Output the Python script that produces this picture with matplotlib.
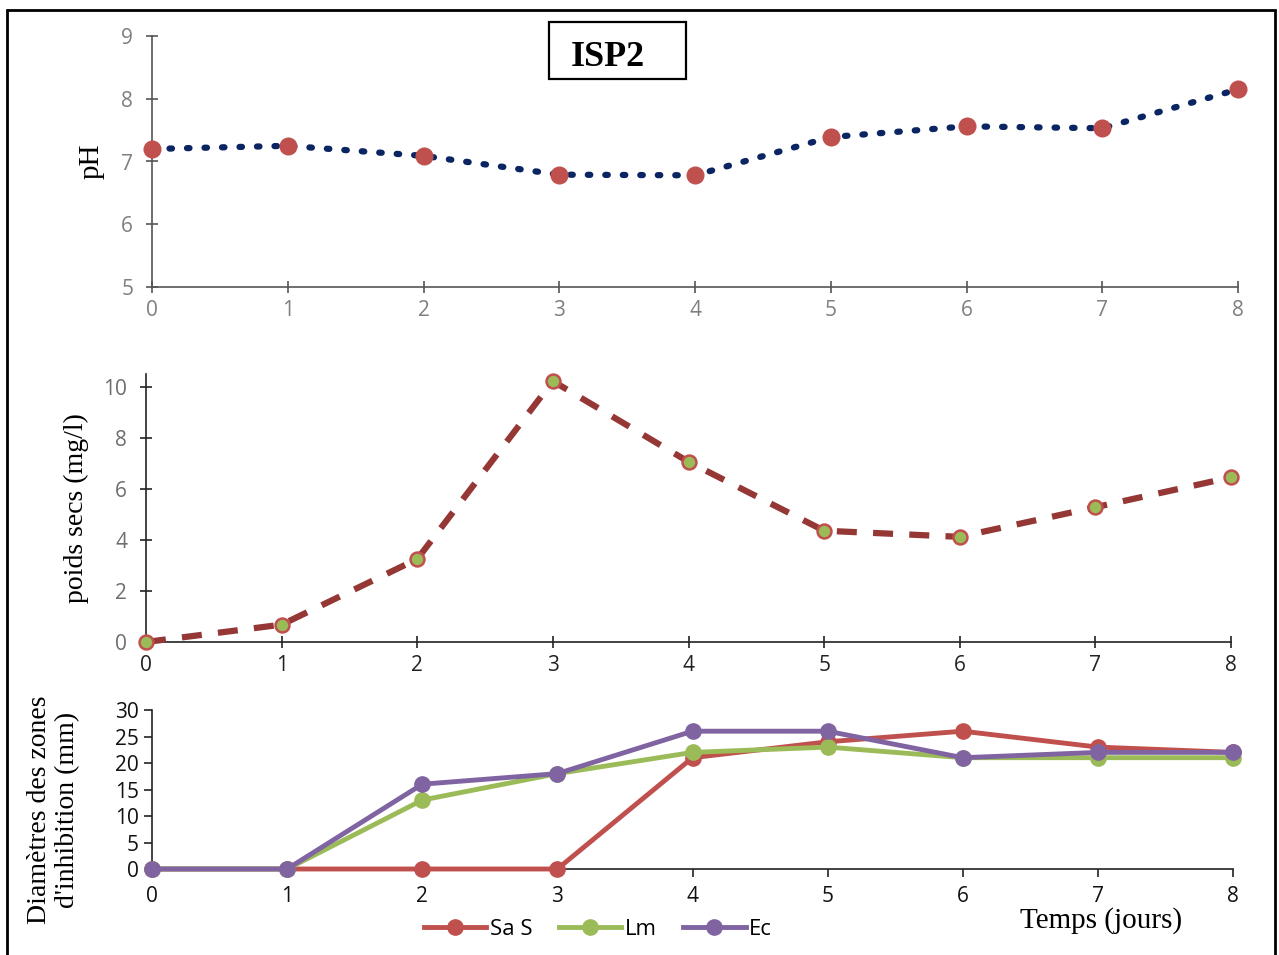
import numpy as np
import matplotlib.pyplot as plt
from matplotlib.patches import Rectangle

# days
jours = [0, 1, 2, 3, 4, 5, 6, 7, 8]

# pH of the ISP2 medium
ph = [7.20, 7.25, 7.09, 6.79, 6.78, 7.39, 7.56, 7.53, 8.15]

# dry weight (mg/l)
poids = [0.0, 0.68, 3.25, 10.22, 7.06, 4.36, 4.12, 5.28, 6.45]

# inhibition zone diameters (mm)
sa_s = [0, 0, 0, 0, 21, 24, 26, 23, 22]
lm = [0, 0, 13, 18, 22, 23, 21, 21, 21]
ec = [0, 0, 16, 18, 26, 26, 21, 22, 22]

W, H = 1279, 955
fig = plt.figure(figsize=(W / 100, H / 100), dpi=100)

tickfont = 'Open Sans'
serif = 'Liberation Serif'


def box(l, r, t, b):
    # pixel box -> figure fraction
    return [l / W, (H - b) / H, (r - l) / W, (b - t) / H]


# ---- top panel : pH ----
ax1 = fig.add_axes(box(152, 1238, 36, 287))
ax1.plot(jours, ph, linestyle=(0, (0.4, 2.4)), dash_capstyle='round', color='#0a2561', lw=4.5,
         marker='o', ms=12, mfc='#c0504d', mec='#c0504d', clip_on=False, zorder=3)
ax1.set_xlim(0, 8)
ax1.set_ylim(5, 9)
ax1.set_yticks([5, 6, 7, 8, 9])
ax1.set_xticks(jours)
for s in ['top', 'right']:
    ax1.spines[s].set_visible(False)
for s in ['left', 'bottom']:
    ax1.spines[s].set_color('#555555')
    ax1.spines[s].set_linewidth(1.2)
ax1.tick_params(direction='inout', length=9, width=1.2, color='#555555', labelcolor='#7f7f7f',
                labelsize=15)
ax1.tick_params(axis='x', pad=5)
ax1.tick_params(axis='y', pad=9)
for lab in ax1.get_xticklabels() + ax1.get_yticklabels():
    lab.set_family(tickfont)
ax1.set_ylabel('pH', family=serif, fontsize=21, labelpad=12)

# title box
fig.patches.append(Rectangle((549 / W, 1 - 79 / H), 137 / W, 57 / H, transform=fig.transFigure,
                             fc='white', ec='black', lw=1.6))
fig.text(608 / W, 1 - 58 / H, 'ISP2', family=serif, fontweight='bold',
         fontsize=26, ha='center', va='center')

# ---- middle panel : poids secs ----
ax2 = fig.add_axes(box(146, 1231, 374, 642))
ax2.plot(jours, poids, linestyle=(0, (3.2, 2.6)), color='#953735', lw=4.5,
         marker='o', ms=10, mfc='#9bbb59', mec='#c0504d', mew=1.8, clip_on=False, zorder=3)
ax2.set_xlim(0, 8)
ax2.set_ylim(0, 10.5)
ax2.set_yticks([0, 2, 4, 6, 8, 10])
ax2.set_xticks(jours)
for s in ['top', 'right']:
    ax2.spines[s].set_visible(False)
for s in ['left', 'bottom']:
    ax2.spines[s].set_color('#222222')
    ax2.spines[s].set_linewidth(1.2)
ax2.tick_params(direction='inout', length=9, width=1.2, color='#222222', labelsize=15)
ax2.tick_params(axis='y', labelcolor='#6e6e6e', pad=9)
ax2.tick_params(axis='x', labelcolor='#222222', pad=5)
for lab in ax2.get_xticklabels() + ax2.get_yticklabels():
    lab.set_family(tickfont)
ax2.set_ylabel('poids secs (mg/l)', family=serif, fontsize=20, labelpad=10)

# ---- bottom panel : inhibition zones ----
ax3 = fig.add_axes(box(152, 1233, 710, 869))
ax3.plot(jours, sa_s, color='#c0504d', lw=3.5, marker='o', ms=11, label='Sa S', clip_on=False, zorder=3)
ax3.plot(jours, lm, color='#9bbb59', lw=3.5, marker='o', ms=11, label='Lm', clip_on=False, zorder=3)
ax3.plot(jours, ec, color='#8064a2', lw=3.5, marker='o', ms=11, label='Ec', clip_on=False, zorder=4)
ax3.set_xlim(0, 8)
ax3.set_ylim(0, 30)
ax3.set_yticks([0, 5, 10, 15, 20, 25, 30])
ax3.set_xticks(jours)
for s in ['top', 'right']:
    ax3.spines[s].set_visible(False)
for s in ['left', 'bottom']:
    ax3.spines[s].set_color('#222222')
    ax3.spines[s].set_linewidth(1.2)
ax3.tick_params(direction='out', length=6, width=1.2, color='#222222', labelcolor='#111111',
                labelsize=15)
ax3.tick_params(axis='x', pad=6)
for lab in ax3.get_xticklabels() + ax3.get_yticklabels():
    lab.set_family(tickfont)
ax3.set_ylabel("Diamètres des zones\nd'inhibition (mm)", family=serif, fontsize=20,
               linespacing=1.15)
ax3.yaxis.set_label_coords(-72 / 1081, 0.37)
fig.text(1101 / W, 1 - 921 / H, 'Temps (jours)', family=serif, fontsize=21, ha='center', va='center')
fig.legend(loc='center', bbox_to_anchor=(598 / W, 1 - 929 / H), ncol=3, frameon=False,
           prop={'family': tickfont, 'size': 16}, handlelength=2.8, handletextpad=0.15,
           columnspacing=1.2)

# outer frame
fig.patches.append(Rectangle((7 / W, -0.02), 1268 / W, 1 - 10 / H + 0.02, transform=fig.transFigure,
                             fill=False, ec='black', lw=2))

fig.savefig('out.png', dpi=100)
